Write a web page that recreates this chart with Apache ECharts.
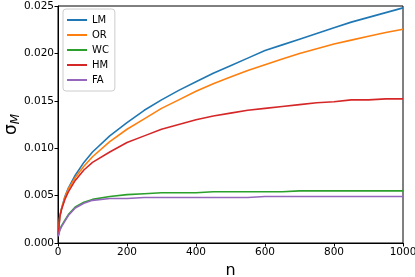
<!DOCTYPE html>
<html><head><meta charset="utf-8">
<script src="https://cdn.jsdelivr.net/npm/echarts@6/dist/echarts.min.js"></script>
<style>html,body{margin:0;padding:0;background:#fff}#c{width:415px;height:277px}</style>
</head><body><div id="c"></div>
<script>
const nValues = [1, 5, 10, 20, 30, 50, 75, 100, 150, 200, 250, 300, 350, 400, 450, 500, 550, 600, 650, 700, 750, 800, 850, 900, 950, 1000];
const lm = [0.0009, 0.00275, 0.0036, 0.0049, 0.0058, 0.00715, 0.0085, 0.0096, 0.0113, 0.0127, 0.0140, 0.0151, 0.0161, 0.0170, 0.0179, 0.0187, 0.0195, 0.0203, 0.0209, 0.0215, 0.0221, 0.0227, 0.0233, 0.0238, 0.0243, 0.0248];
const or = [0.0009, 0.0028, 0.0036, 0.0048, 0.0057, 0.0069, 0.0081, 0.0091, 0.0107, 0.0120, 0.0131, 0.0142, 0.0151, 0.0160, 0.0168, 0.0175, 0.0182, 0.0188, 0.0194, 0.0200, 0.0205, 0.0210, 0.0214, 0.0218, 0.0222, 0.02255];
const wc = [0.0008, 0.0014, 0.0018, 0.0024, 0.0030, 0.0038, 0.0043, 0.0046, 0.0049, 0.0051, 0.0052, 0.0053, 0.0053, 0.0053, 0.0054, 0.0054, 0.0054, 0.0054, 0.0054, 0.0055, 0.0055, 0.0055, 0.0055, 0.0055, 0.0055, 0.0055];
const hm = [0.0009, 0.0027, 0.0035, 0.0046, 0.0054, 0.0066, 0.0077, 0.0085, 0.0096, 0.0106, 0.0113, 0.0120, 0.0125, 0.0130, 0.0134, 0.0137, 0.0140, 0.0142, 0.0144, 0.0146, 0.0148, 0.0149, 0.0151, 0.0151, 0.0152, 0.0152];
const fa = [0.0007, 0.0013, 0.0017, 0.0023, 0.0029, 0.0037, 0.0042, 0.0045, 0.0047, 0.0047, 0.0048, 0.0048, 0.0048, 0.0048, 0.0048, 0.0048, 0.0048, 0.0049, 0.0049, 0.0049, 0.0049, 0.0049, 0.0049, 0.0049, 0.0049, 0.0049];
const names = ['LM', 'OR', 'WC', 'HM', 'FA'];
const colors = ['#1f77b4', '#ff7f0e', '#2ca02c', '#d62728', '#9467bd'];
const xTicks = [0, 200, 400, 600, 800, 1000];
const yTicks = [0, 0.005, 0.010, 0.015, 0.020, 0.025];

const values = [lm, or, wc, hm, fa];
const font = 'DejaVu Sans';
const chart = echarts.init(document.getElementById('c'), null, {renderer: 'canvas'});
chart.setOption({
  animation: false,
  textStyle: {fontFamily: font},
  grid: {left: 58, right: 12, top: 6, bottom: 34, show: true, borderColor: '#000', borderWidth: 1,
         containLabel: false, outerBoundsMode: 'none'},
  legend: {
    orient: 'vertical', left: 63, top: 9,
    data: names, icon: 'rect', itemWidth: 20, itemHeight: 2, itemGap: 3,
    padding: [5, 6, 5, 4], borderColor: '#cccccc', borderWidth: 1, borderRadius: 3,
    backgroundColor: '#fff',
    textStyle: {fontFamily: font, fontSize: 10, color: '#000', padding: [0, 0, 0, 0], lineHeight: 12}
  },
  xAxis: {
    type: 'value', min: xTicks[0], max: xTicks[xTicks.length - 1], interval: 200,
    name: 'n', nameLocation: 'middle', nameGap: 20, nameMoveOverlap: false,
    nameTextStyle: {fontFamily: font, fontSize: 16, color: '#000'},
    axisLine: {lineStyle: {color: '#000', width: 1}},
    axisTick: {show: true, length: 3.5, lineStyle: {color: '#000'}},
    axisLabel: {fontFamily: font, fontSize: 10.5, color: '#000', margin: 4, formatter: v => String(v)},
    splitLine: {show: false}
  },
  yAxis: {
    type: 'value', min: yTicks[0], max: yTicks[yTicks.length - 1], interval: 0.005,
    name: '{s|σ}{sub|M}', nameLocation: 'middle', nameGap: 36, nameRotate: 90, nameMoveOverlap: false,
    nameTextStyle: {
      fontFamily: font, color: '#000',
      rich: {
        s: {fontFamily: font, fontSize: 17, color: '#000'},
        sub: {fontFamily: font, fontSize: 12, fontStyle: 'italic', color: '#000', verticalAlign: 'bottom', padding: [8, 0, 0, 0]}
      }
    },
    axisLine: {show: true, lineStyle: {color: '#000', width: 1}},
    axisTick: {show: true, length: 3.5, lineStyle: {color: '#000'}},
    axisLabel: {fontFamily: font, fontSize: 10.5, color: '#000', margin: 4, formatter: v => v.toFixed(3)},
    splitLine: {show: false}
  },
  series: names.map((nm, i) => ({
    name: nm, type: 'line', symbol: 'none', smooth: false,
    data: nValues.map((n, j) => [n, values[i][j]]),
    lineStyle: {color: colors[i], width: 1.6},
    itemStyle: {color: colors[i]}
  }))
});
</script></body></html>
